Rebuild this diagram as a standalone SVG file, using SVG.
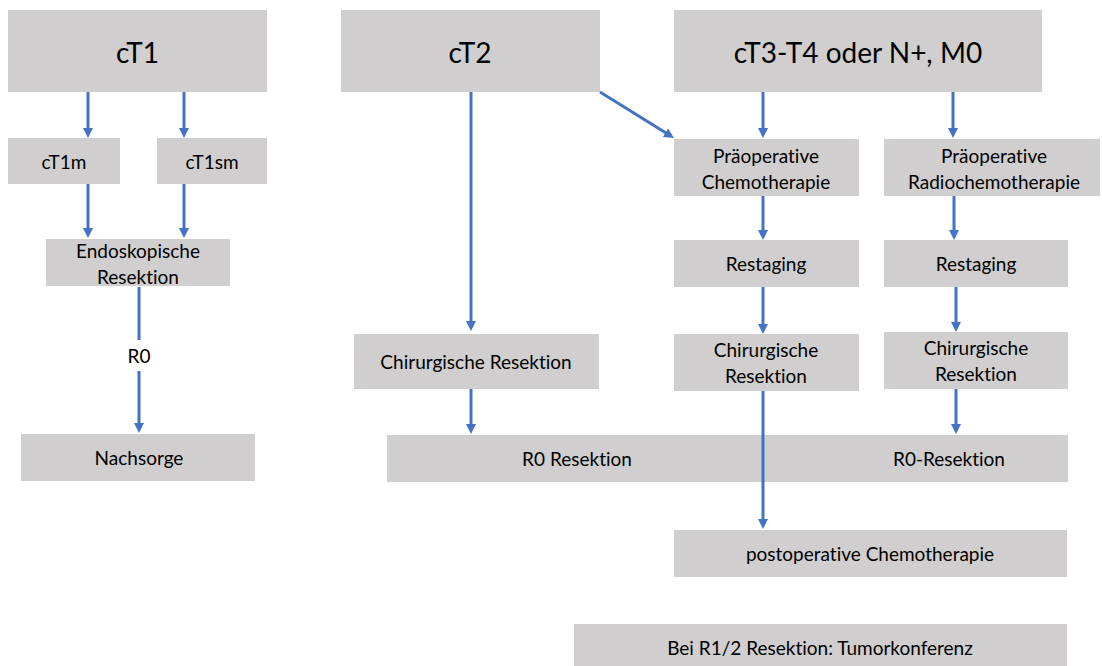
<svg xmlns="http://www.w3.org/2000/svg" width="1102" height="666" viewBox="0 0 1102 666">
<style>
.box{fill:#D0CECE}
text{font-family:Lato,"Liberation Sans",sans-serif;fill:#000;text-anchor:middle;dominant-baseline:central;font-variant-ligatures:none;font-feature-settings:"liga" 0,"clig" 0}
.big{font-size:28px}
.sm{font-size:19px}
.con{stroke:#4472C4;stroke-width:3;fill:none;marker-end:url(#ah)}
</style>
<defs>
<marker id="ah" viewBox="0 0 10 10" refX="4" refY="5" markerWidth="10" markerHeight="10" markerUnits="userSpaceOnUse" orient="auto">
<path d="M0,0 L10,5 L0,10 z" fill="#4472C4"/>
</marker>
</defs>
<rect width="1102" height="666" fill="#fff"/>
<g id="cT1"><rect class="box" x="8" y="10" width="259" height="82"/><text class="big" x="137.5" y="52">cT1</text></g>
<g id="cT2"><rect class="box" x="341" y="10" width="259" height="82"/><text class="big" x="470" y="52">cT2</text></g>
<g id="cT3"><rect class="box" x="674" y="10" width="368" height="82"/><text class="big" x="858" y="52">cT3-T4 oder N+, M0</text></g>
<g id="cT1m"><rect class="box" x="8" y="138" width="112" height="46"/><text class="sm" x="64" y="161">cT1m</text></g>
<g id="cT1sm"><rect class="box" x="157" y="138" width="110" height="46"/><text class="sm" x="212" y="161">cT1sm</text></g>
<g id="endo"><rect class="box" x="46" y="239" width="184" height="47"/><text class="sm" x="138" y="250">Endoskopische</text><text class="sm" x="138" y="276">Resektion</text></g>
<g id="nachsorge"><rect class="box" x="21" y="434" width="234" height="47"/><text class="sm" x="139" y="457">Nachsorge</text></g>
<g id="praeop-chemo"><rect class="box" x="674" y="139" width="185" height="57"/><text class="sm" x="766" y="155">Präoperative</text><text class="sm" x="766" y="181">Chemotherapie</text></g>
<g id="praeop-radio"><rect class="box" x="884" y="139" width="216" height="57"/><text class="sm" x="994" y="155">Präoperative</text><text class="sm" x="994" y="181">Radiochemotherapie</text></g>
<g id="restaging1"><rect class="box" x="674" y="240" width="185" height="47"/><text class="sm" x="766" y="263">Restaging</text></g>
<g id="restaging2"><rect class="box" x="884" y="240" width="184" height="47"/><text class="sm" x="976" y="263">Restaging</text></g>
<g id="chir-ct2"><rect class="box" x="354" y="334" width="245" height="55"/><text class="sm" x="476" y="361">Chirurgische Resektion</text></g>
<g id="chir2"><rect class="box" x="674" y="334" width="185" height="57"/><text class="sm" x="766" y="349">Chirurgische</text><text class="sm" x="766" y="375">Resektion</text></g>
<g id="chir3"><rect class="box" x="884" y="332" width="184" height="57"/><text class="sm" x="976" y="347">Chirurgische</text><text class="sm" x="976" y="373">Resektion</text></g>
<g id="r0"><rect class="box" x="387" y="435" width="681" height="47"/><text class="sm" x="577" y="458">R0 Resektion</text><text class="sm" x="949" y="458">R0-Resektion</text></g>
<g id="postop"><rect class="box" x="674" y="530" width="393" height="47"/><text class="sm" x="870" y="553">postoperative Chemotherapie</text></g>
<g id="bei"><rect class="box" x="574" y="624" width="493" height="42"/><text class="sm" x="820" y="647">Bei R1/2 Resektion: Tumorkonferenz</text></g>
<g id="connectors">
<path class="con" d="M88 92 V132"/>
<path class="con" d="M184 92 V132"/>
<path class="con" d="M88 184 V232"/>
<path class="con" d="M184 184 V232"/>
<path class="con" d="M139 287 V340 M139 371 V427"/>
<text class="sm" x="139" y="355">R0</text>
<path class="con" d="M471 92 V325"/>
<path class="con" d="M471 389 V428"/>
<path class="con" d="M600 92 L668.9 134.8"/>
<path class="con" d="M763 92 V132"/>
<path class="con" d="M953 92 V132"/>
<path class="con" d="M763 196 V234"/>
<path class="con" d="M954 196 V234"/>
<path class="con" d="M763 287 V328"/>
<path class="con" d="M956 287 V326"/>
<path class="con" d="M763 391 V523"/>
<path class="con" d="M956 389 V428"/>
</g>
</svg>
